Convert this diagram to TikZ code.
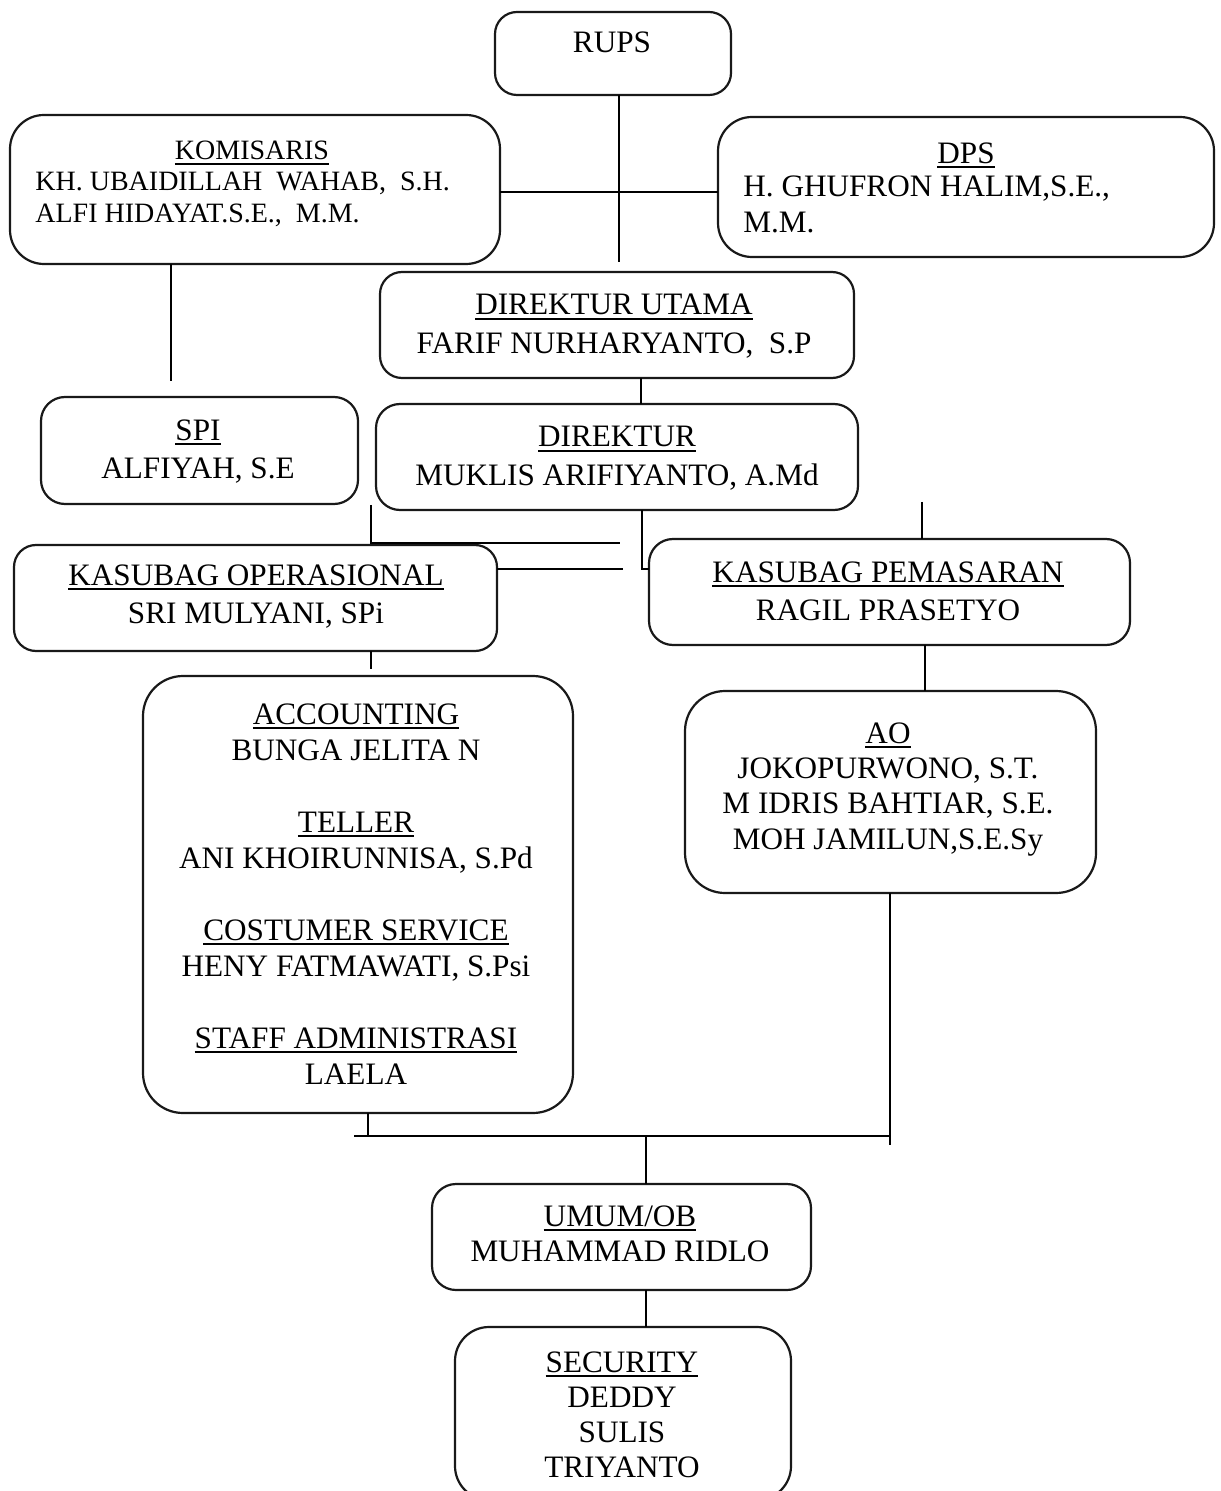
\documentclass[tikz,border=0pt]{standalone}
\usepackage{fontspec}
\setmainfont{Liberation Serif}
\usetikzlibrary{fit}
\newcommand{\ttl}[1]{\setbox0\hbox{#1}\leavevmode\rlap{\rule[-2.4pt]{\wd0}{0.8pt}}\box0}
\newcommand{\fsA}{\fontsize{15.6}{18}\selectfont}
\newcommand{\fsB}{\fontsize{15.6}{19.3}\selectfont}
\begin{document}
\begin{tikzpicture}[x=0.5pt,y=-0.5pt,
  box/.style={draw=black!90, line width=1.1pt, rounded corners=#1, inner sep=0pt, outer sep=0pt},
  box/.default=11pt,
  txt/.style={inner sep=0pt, align=center, anchor=north, font=\fsA},
  txtb/.style={inner sep=0pt, align=center, anchor=north, font=\fsB},
  conn/.style={draw=black, line width=1pt}]
\path[use as bounding box, fill=white] (0,0) rectangle (1220,1491);

% boxes
\node[box, fit={(495,12) (731,95)}] (rups) {};
\node[box=17pt, fit={(10,115) (500,264)}] (kom) {};
\node[box=17pt, fit={(718,117) (1214,257)}] (dps) {};
\node[box, fit={(380,272) (854,378)}] (dirut) {};
\node[box=12pt, fit={(41,397) (358,504)}] (spi) {};
\node[box=12pt, fit={(376,404) (858,510)}] (direktur) {};
\node[box, fit={(14,545) (497,651)}] (kasop) {};
\node[box=12pt, fit={(649,539) (1130,645)}] (kaspem) {};
\node[box=20pt, fit={(143,676) (573,1113)}] (acc) {};
\node[box=20pt, fit={(685,691) (1096,893)}] (ao) {};
\node[box=12pt, fit={(432,1184) (811,1290)}] (umum) {};
\node[box=17pt, fit={(455,1327) (791,1500)}] (sec) {};

% texts
\node[txt] (rupsT) at (612,31) {RUPS};
\node[txt, font={\fontsize{14}{16}\selectfont}] (komT) at (252,141) {\ttl{KOMISARIS}};
\node[inner sep=0pt, anchor=north west, align=left, font={\fontsize{14}{16}\selectfont}] (komB) at (35,172)
  {KH. UBAIDILLAH\ \ WAHAB,\ \ S.H.\\ALFI HIDAYAT.S.E.,\ \ M.M.};
\node[txt] (dpsT) at (966,142) {\ttl{DPS}};
\node[inner sep=0pt, anchor=north west, align=left, font=\fsA] (dpsB) at (743,175)
  {H. GHUFRON HALIM,S.E.,\\M.M.};
\node[txtb] (dirutT) at (614,294) {\ttl{DIREKTUR UTAMA}\\FARIF NURHARYANTO,\ \ S.P};
\node[txtb] (spiT) at (198,419) {\ttl{SPI}\\ALFIYAH, S.E};
\node[txtb] (direkturT) at (617,426) {\ttl{DIREKTUR}\\MUKLIS ARIFIYANTO, A.Md};
\node[txtb] (kasopT) at (256,564) {\ttl{KASUBAG OPERASIONAL}\\SRI MULYANI, SPi};
\node[txtb] (kaspemT) at (888,561) {\ttl{KASUBAG PEMASARAN}\\RAGIL PRASETYO};
\node[txt] (accT) at (356,703) {\ttl{ACCOUNTING}\\BUNGA JELITA N\\[18pt]
  \ttl{TELLER}\\ANI KHOIRUNNISA, S.Pd\\[18pt]
  \ttl{COSTUMER SERVICE}\\HENY FATMAWATI, S.Psi\\[18pt]
  \ttl{STAFF ADMINISTRASI}\\LAELA};
\node[txt, font={\fontsize{15.6}{17.7}\selectfont}] (aoT) at (888,722) {\ttl{AO}\\JOKOPURWONO, S.T.\\M IDRIS BAHTIAR, S.E.\\MOH JAMILUN,S.E.Sy};
\node[txt, font={\fontsize{15.6}{17.5}\selectfont}] (umumT) at (620,1205) {\ttl{UMUM/OB}\\MUHAMMAD RIDLO};
\node[txt, font={\fontsize{15.6}{17.5}\selectfont}] (secT) at (622,1351) {\ttl{SECURITY}\\DEDDY\\SULIS\\TRIYANTO};

% junction / free-end coordinates
\coordinate (rupsEnd) at (619,262);
\coordinate (midY) at (0,192);
\coordinate (spiLine) at (171,381);
\coordinate (dX) at (641,0);
\coordinate (opTop) at (371,505);
\coordinate (opJ) at (371,543);
\coordinate (opJEnd) at (620,543);
\coordinate (opR) at (623,569);
\coordinate (dJ) at (642,569);
\coordinate (pemTop) at (922,502);
\coordinate (accTop) at (371,669);
\coordinate (pemX) at (925,0);
\coordinate (aoEnd) at (890,1145);
\coordinate (accJ) at (368,1136);
\coordinate (busL) at (354,1136);
\coordinate (busR) at (890,1136);
\coordinate (busM) at (646,1136);

% connectors
\draw[conn] (rupsEnd |- rups.south) -- (rupsEnd);
\draw[conn] (kom.east |- midY) -- (dps.west |- midY);
\draw[conn] (spiLine |- kom.south) -- (spiLine);
\draw[conn] (dX |- dirut.south) -- (dX |- direktur.north);
\draw[conn] (opTop) -- (opJ) -- (opJEnd);
\draw[conn] (opR -| kasop.east) -- (opR);
\draw[conn] (dJ |- direktur.south) -- (dJ) -- (dJ -| kaspem.west);
\draw[conn] (pemTop) -- (pemTop |- kaspem.north);
\draw[conn] (accTop |- kasop.south) -- (accTop);
\draw[conn] (pemX |- kaspem.south) -- (pemX |- ao.north);
\draw[conn] (aoEnd |- ao.south) -- (aoEnd);
\draw[conn] (accJ |- acc.south) -- (accJ);
\draw[conn] (busL) -- (busR);
\draw[conn] (busM) -- (busM |- umum.north);
\draw[conn] (busM |- umum.south) -- (busM |- sec.north);
\end{tikzpicture}
\end{document}
